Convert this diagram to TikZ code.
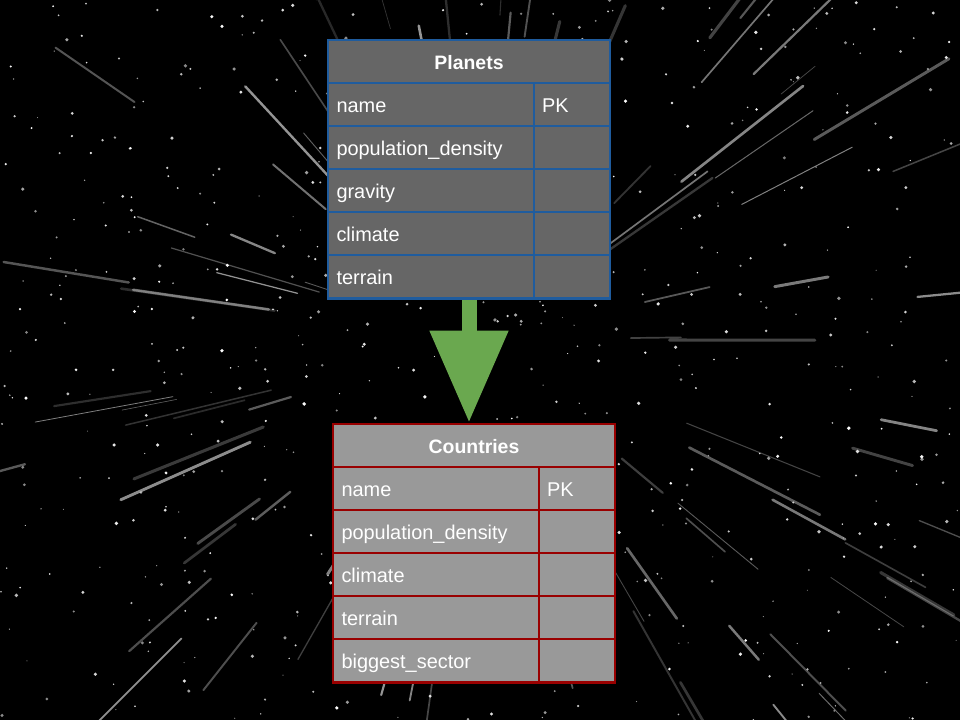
\documentclass[tikz,border=0pt]{standalone}
\usepackage{fontspec}
\setmainfont{Liberation Sans}
\usetikzlibrary{arrows.meta,calc}
\definecolor{plfill}{HTML}{666666}
\definecolor{plline}{HTML}{1F5C9E}
\definecolor{cofill}{HTML}{999999}
\definecolor{coline}{HTML}{990000}
\definecolor{arrgreen}{HTML}{6AA84F}
\begin{document}
\begin{tikzpicture}[x=1bp,y=-1bp,
  cellbase/.style={draw, line width=2.8bp, anchor=north west, inner sep=0pt, outer sep=0pt,
    text=white, font=\fontsize{20}{24}\selectfont, minimum height=43bp,
    text height=17.5bp, text depth=1.5bp},
  plcell/.style={cellbase, fill=plfill, draw=plline},
  cocell/.style={cellbase, fill=cofill, draw=coline},
  header/.style={font=\bfseries\fontsize{19.5}{24}\selectfont, minimum width=282bp, align=center},
  leftcell/.style={minimum width=206bp, text width=190bp, align=left, inner xsep=8.5bp},
  rightcell/.style={minimum width=76bp, text width=60bp, align=left, inner xsep=8bp},
  star/.style={fill=white},
  streak/.style={line cap=round}
]
\useasboundingbox (0,0) rectangle (960,720);
\fill[black] (0,0) rectangle (960,720);
% starfield background
\pgfmathsetseed{7}
\foreach \i in {1,...,110}{
  \pgfmathsetmacro{\ang}{rnd*360}
  \pgfmathsetmacro{\ra}{140+rnd*380}
  \pgfmathsetmacro{\len}{30+rnd*140}
  \pgfmathsetmacro{\lw}{0.6+rnd*2.6}
  \pgfmathsetmacro{\op}{0.15+rnd*0.45}
  \draw[streak, white, opacity=\op, line width=\lw bp]
    ($(480,340)+(\ang:\ra)$) -- ($(480,340)+(\ang:\ra+\len)$);
}
\foreach \i in {1,...,650}{
  \pgfmathsetmacro{\sx}{rnd*960}
  \pgfmathsetmacro{\sy}{rnd*720}
  \pgfmathsetmacro{\sr}{0.5+rnd*1.4}
  \pgfmathsetmacro{\so}{0.5+rnd*0.5}
  \fill[star, opacity=\so] (\sx,\sy) circle (\sr bp);
}
% Planets table
\node[plcell, minimum width=282bp, minimum height=259bp] (planets) at (328,40) {};
\node[plcell, header] (pl-h) at (328,40) {Planets};
\node[plcell, leftcell] (pl-1) at (328,83) {name};
\node[plcell, rightcell] (pl-1k) at (534,83) {PK};
\node[plcell, leftcell] (pl-2) at (328,126) {population\_density};
\node[plcell, rightcell] (pl-2k) at (534,126) {};
\node[plcell, leftcell] (pl-3) at (328,169) {gravity};
\node[plcell, rightcell] (pl-3k) at (534,169) {};
\node[plcell, leftcell] (pl-4) at (328,212) {climate};
\node[plcell, rightcell] (pl-4k) at (534,212) {};
\node[plcell, leftcell] (pl-5) at (328,255) {terrain};
\node[plcell, rightcell] (pl-5k) at (534,255) {};
% Countries table
\node[cocell, minimum width=282bp, minimum height=259bp] (countries) at (333,424) {};
\node[cocell, header] (co-h) at (333,424) {Countries};
\node[cocell, leftcell] (co-1) at (333,467) {name};
\node[cocell, rightcell] (co-1k) at (539,467) {PK};
\node[cocell, leftcell] (co-2) at (333,510) {population\_density};
\node[cocell, rightcell] (co-2k) at (539,510) {};
\node[cocell, leftcell] (co-3) at (333,553) {climate};
\node[cocell, rightcell] (co-3k) at (539,553) {};
\node[cocell, leftcell] (co-4) at (333,596) {terrain};
\node[cocell, rightcell] (co-4k) at (539,596) {};
\node[cocell, leftcell] (co-5) at (333,639) {biggest\_sector};
\node[cocell, rightcell] (co-5k) at (539,639) {};
% arrow
\coordinate (arrS) at ($(planets.south)+(0,1.4)$);
\coordinate (arrE) at (arrS |- countries.north);
\draw[arrgreen, line width=15bp, -{Triangle[width=75bp,length=92bp]}] (arrS) -- ($(arrE)+(0,-1.4)$);
\end{tikzpicture}
\end{document}
